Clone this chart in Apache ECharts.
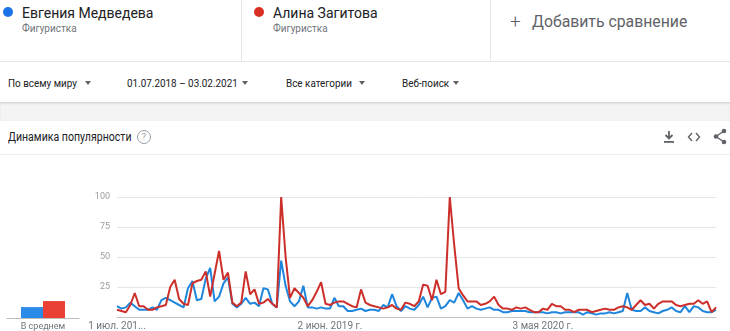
<!DOCTYPE html>
<html>
<head>
<meta charset="utf-8">
<script src="https://cdn.jsdelivr.net/npm/echarts@6/dist/echarts.min.js"></script>
<style>
  html, body { margin:0; padding:0; width:730px; height:331px; overflow:hidden; background:#fff; font-family: Roboto, "Noto Sans", sans-serif; }
  .abs { position:absolute; white-space:nowrap; }
  .dot { position:absolute; width:10px; height:10px; border-radius:50%; }
  .term { font-size:14px; color:#202124; }
  .sub { font-size:10.5px; color:#70757a; transform:scaleX(0.95); transform-origin:left center; }
  .filter { font-size:11.5px; color:#202124; transform:scaleX(0.86); transform-origin:left center; }
  .tri { position:absolute; width:0; height:0; border-left:3.5px solid transparent; border-right:3.5px solid transparent; border-top:4px solid #5f6368; }
</style>
</head>
<body>
<!-- header terms -->
<div class="dot" style="left:3px;top:7px;background:#1a73e8;"></div>
<div class="abs term" style="left:22px;top:5px;">Евгения Медведева</div>
<div class="abs sub" style="left:22px;top:22px;">Фигуристка</div>
<div class="abs" style="left:241px;top:0;width:1px;height:61px;background:#e6e6e6;"></div>
<div class="dot" style="left:254px;top:7px;background:#d93025;"></div>
<div class="abs term" style="left:273px;top:5px;">Алина Загитова</div>
<div class="abs sub" style="left:273px;top:22px;">Фигуристка</div>
<div class="abs" style="left:490px;top:0;width:1px;height:61px;background:#e6e6e6;"></div>
<div class="abs" style="left:510px;top:10px;font-size:19px;color:#5f6368;font-weight:300;">+</div>
<div class="abs" style="left:532px;top:12px;font-size:15.8px;color:#5f6368;">Добавить сравнение</div>
<div class="abs" style="left:0;top:61px;width:730px;height:1px;background:#e6e6e6;"></div>
<!-- filters -->
<div class="abs filter" style="left:8px;top:76px;">По всему миру</div>
<div class="tri" style="left:85px;top:81px;"></div>
<div class="abs filter" style="left:127px;top:76px;">01.07.2018 – 03.02.2021</div>
<div class="tri" style="left:242px;top:81px;"></div>
<div class="abs filter" style="left:286px;top:76px;">Все категории</div>
<div class="tri" style="left:359px;top:81px;"></div>
<div class="abs filter" style="left:402px;top:76px;">Веб-поиск</div>
<div class="tri" style="left:453px;top:81px;"></div>
<div class="abs" style="left:0;top:102px;width:730px;height:18px;background:#f4f4f4;border-top:1px solid #d6d6d6;box-shadow:0 1px 2px rgba(0,0,0,0.08) inset;"></div>
<!-- card title -->
<div class="abs" style="left:8px;top:130px;font-size:12px;color:#202124;transform:scaleX(0.88);transform-origin:left center;">Динамика популярности</div>
<div class="abs" style="left:137px;top:130px;width:12px;height:12px;border:1px solid #9aa0a6;border-radius:50%;font-size:9px;line-height:12px;text-align:center;color:#9aa0a6;">?</div>
<svg class="abs" style="left:663px;top:130px;" width="12" height="14" viewBox="0 0 12 14"><path d="M6 1 V8 M2.5 5 L6 8.5 L9.5 5" stroke="#5f6368" stroke-width="1.8" fill="none"/><rect x="1" y="11" width="10" height="1.8" fill="#5f6368"/></svg>
<svg class="abs" style="left:687px;top:131px;" width="14" height="12" viewBox="0 0 14 12"><path d="M5 2 L1.5 6 L5 10 M9 2 L12.5 6 L9 10" stroke="#5f6368" stroke-width="1.4" fill="none"/></svg>
<svg class="abs" style="left:713px;top:128px;" width="14" height="17" viewBox="0 0 14 17"><path d="M11 3 L3 8.5 L11 14" stroke="#5f6368" stroke-width="1.3" fill="none"/><circle cx="11" cy="3" r="2.3" fill="#5f6368"/><circle cx="3" cy="8.5" r="2.3" fill="#5f6368"/><circle cx="11" cy="14" r="2.3" fill="#5f6368"/></svg>
<div class="abs" style="left:0;top:154px;width:730px;height:1px;background:#ececec;"></div>

<div id="chart" style="position:absolute;left:0;top:155px;width:730px;height:176px;"></div>

<script>
// ---- data ----
const seriesNames = ['Евгения Медведева', 'Алина Загитова'];
const medvedeva = [9,7,8,12,9,6,6,6,8,6,14,16,14,12,10,8,24,30,14,15,32,41,13,17,28,33,11,8,11,16,11,12,9,24,23,11,8,47,26,13,9,13,26,8,8,7,8,7,7,16,9,9,5,5,6,7,5,6,6,5,10,8,19,9,5,9,7,6,10,17,8,16,17,7,9,14,12,20,14,7,9,7,6,7,8,6,6,4,4,5,5,5,5,4,4,4,4,3,4,4,3,4,4,4,4,2,4,3,2,3,3,4,3,4,5,20,6,5,5,8,5,4,3,5,6,8,5,4,9,4,9,8,5,4,4,6];
const zagitova = [6,5,4,10,20,9,9,6,6,8,9,10,25,31,15,11,10,28,30,31,38,17,36,55,31,37,12,9,12,38,19,23,11,12,15,11,8,100,50,16,24,20,16,9,14,21,29,11,10,12,13,13,11,9,8,23,12,10,9,8,7,8,10,7,6,12,11,9,13,27,26,14,31,19,21,100,60,24,18,13,13,13,10,11,13,17,10,7,7,6,8,7,8,6,4,4,7,6,11,9,9,6,6,4,6,6,6,4,5,6,7,6,6,8,9,8,6,10,14,10,11,7,11,13,13,13,10,9,10,11,11,14,11,13,4,8];
const averageLabel = ['В среднем'];
const averages = [9, 14];
const tickIndex = [0, 48, 96];
const tickText = ['1 июл. 201...', '2 июн. 2019 г.', '3 мая 2020 г.'];
const yTicks = [0, 25, 50, 75, 100];

// weekly categories starting 1 July 2018
const categories = [];
for (let i = 0; i < medvedeva.length; i++) {
  const d = new Date(Date.UTC(2018, 6, 1 + 7 * i));
  categories.push(d.toISOString().slice(0, 10));
}

const blue = '#1f86dd', red = '#cc2f2a';
const chart = echarts.init(document.getElementById('chart'), null, {renderer: 'canvas'});
chart.setOption({
  animation: false,
  grid: [
    {left: 117, right: 14, top: 42, bottom: 13},
    {left: 7, width: 72, top: 42, bottom: 13}
  ],
  xAxis: [
    {
      gridIndex: 0, type: 'category', data: categories, boundaryGap: false,
      axisLine: {lineStyle: {color: '#c4c4c4', width: 1}},
      axisTick: {show: false},
      axisLabel: {
        interval: (idx) => tickIndex.includes(idx),
        formatter: (v, idx) => tickText[tickIndex.indexOf(idx)] || '',
        color: '#70757a', fontSize: 10, fontFamily: 'Roboto', margin: 4
      },
      splitLine: {show: false}
    },
    {
      gridIndex: 1, type: 'category', data: averageLabel,
      axisLine: {lineStyle: {color: '#bdbdbd', width: 1}},
      axisTick: {show: false},
      axisLabel: {color: '#70757a', fontSize: 9, fontFamily: 'Roboto', margin: 4}
    }
  ],
  yAxis: [
    {
      gridIndex: 0, type: 'value', min: 0, max: 100, interval: 25,
      axisLine: {show: false}, axisTick: {show: false},
      axisLabel: {color: '#9e9e9e', fontSize: 9, fontFamily: 'Roboto', margin: 7,
        formatter: (v) => (v === 0 ? '' : String(yTicks[yTicks.indexOf(v)]))},
      splitLine: {lineStyle: {color: '#e6e6e6', width: 1}}
    },
    {
      gridIndex: 1, type: 'value', min: 0, max: 100, show: false
    }
  ],
  series: [
    {
      name: seriesNames[0], type: 'line', xAxisIndex: 0, yAxisIndex: 0, data: medvedeva,
      showSymbol: false, lineStyle: {color: blue, width: 2}, itemStyle: {color: blue}, z: 3
    },
    {
      name: seriesNames[1], type: 'line', xAxisIndex: 0, yAxisIndex: 0, data: zagitova,
      showSymbol: false, lineStyle: {color: red, width: 2}, itemStyle: {color: red}, z: 4
    },
    {
      name: seriesNames[0], type: 'bar', xAxisIndex: 1, yAxisIndex: 1, data: [averages[0]],
      barWidth: 22, barGap: '0%', itemStyle: {color: '#2a8ae8'}
    },
    {
      name: seriesNames[1], type: 'bar', xAxisIndex: 1, yAxisIndex: 1, data: [averages[1]],
      barWidth: 22, barGap: '0%', itemStyle: {color: '#eb4034'}
    }
  ]
});
</script>
</body>
</html>
